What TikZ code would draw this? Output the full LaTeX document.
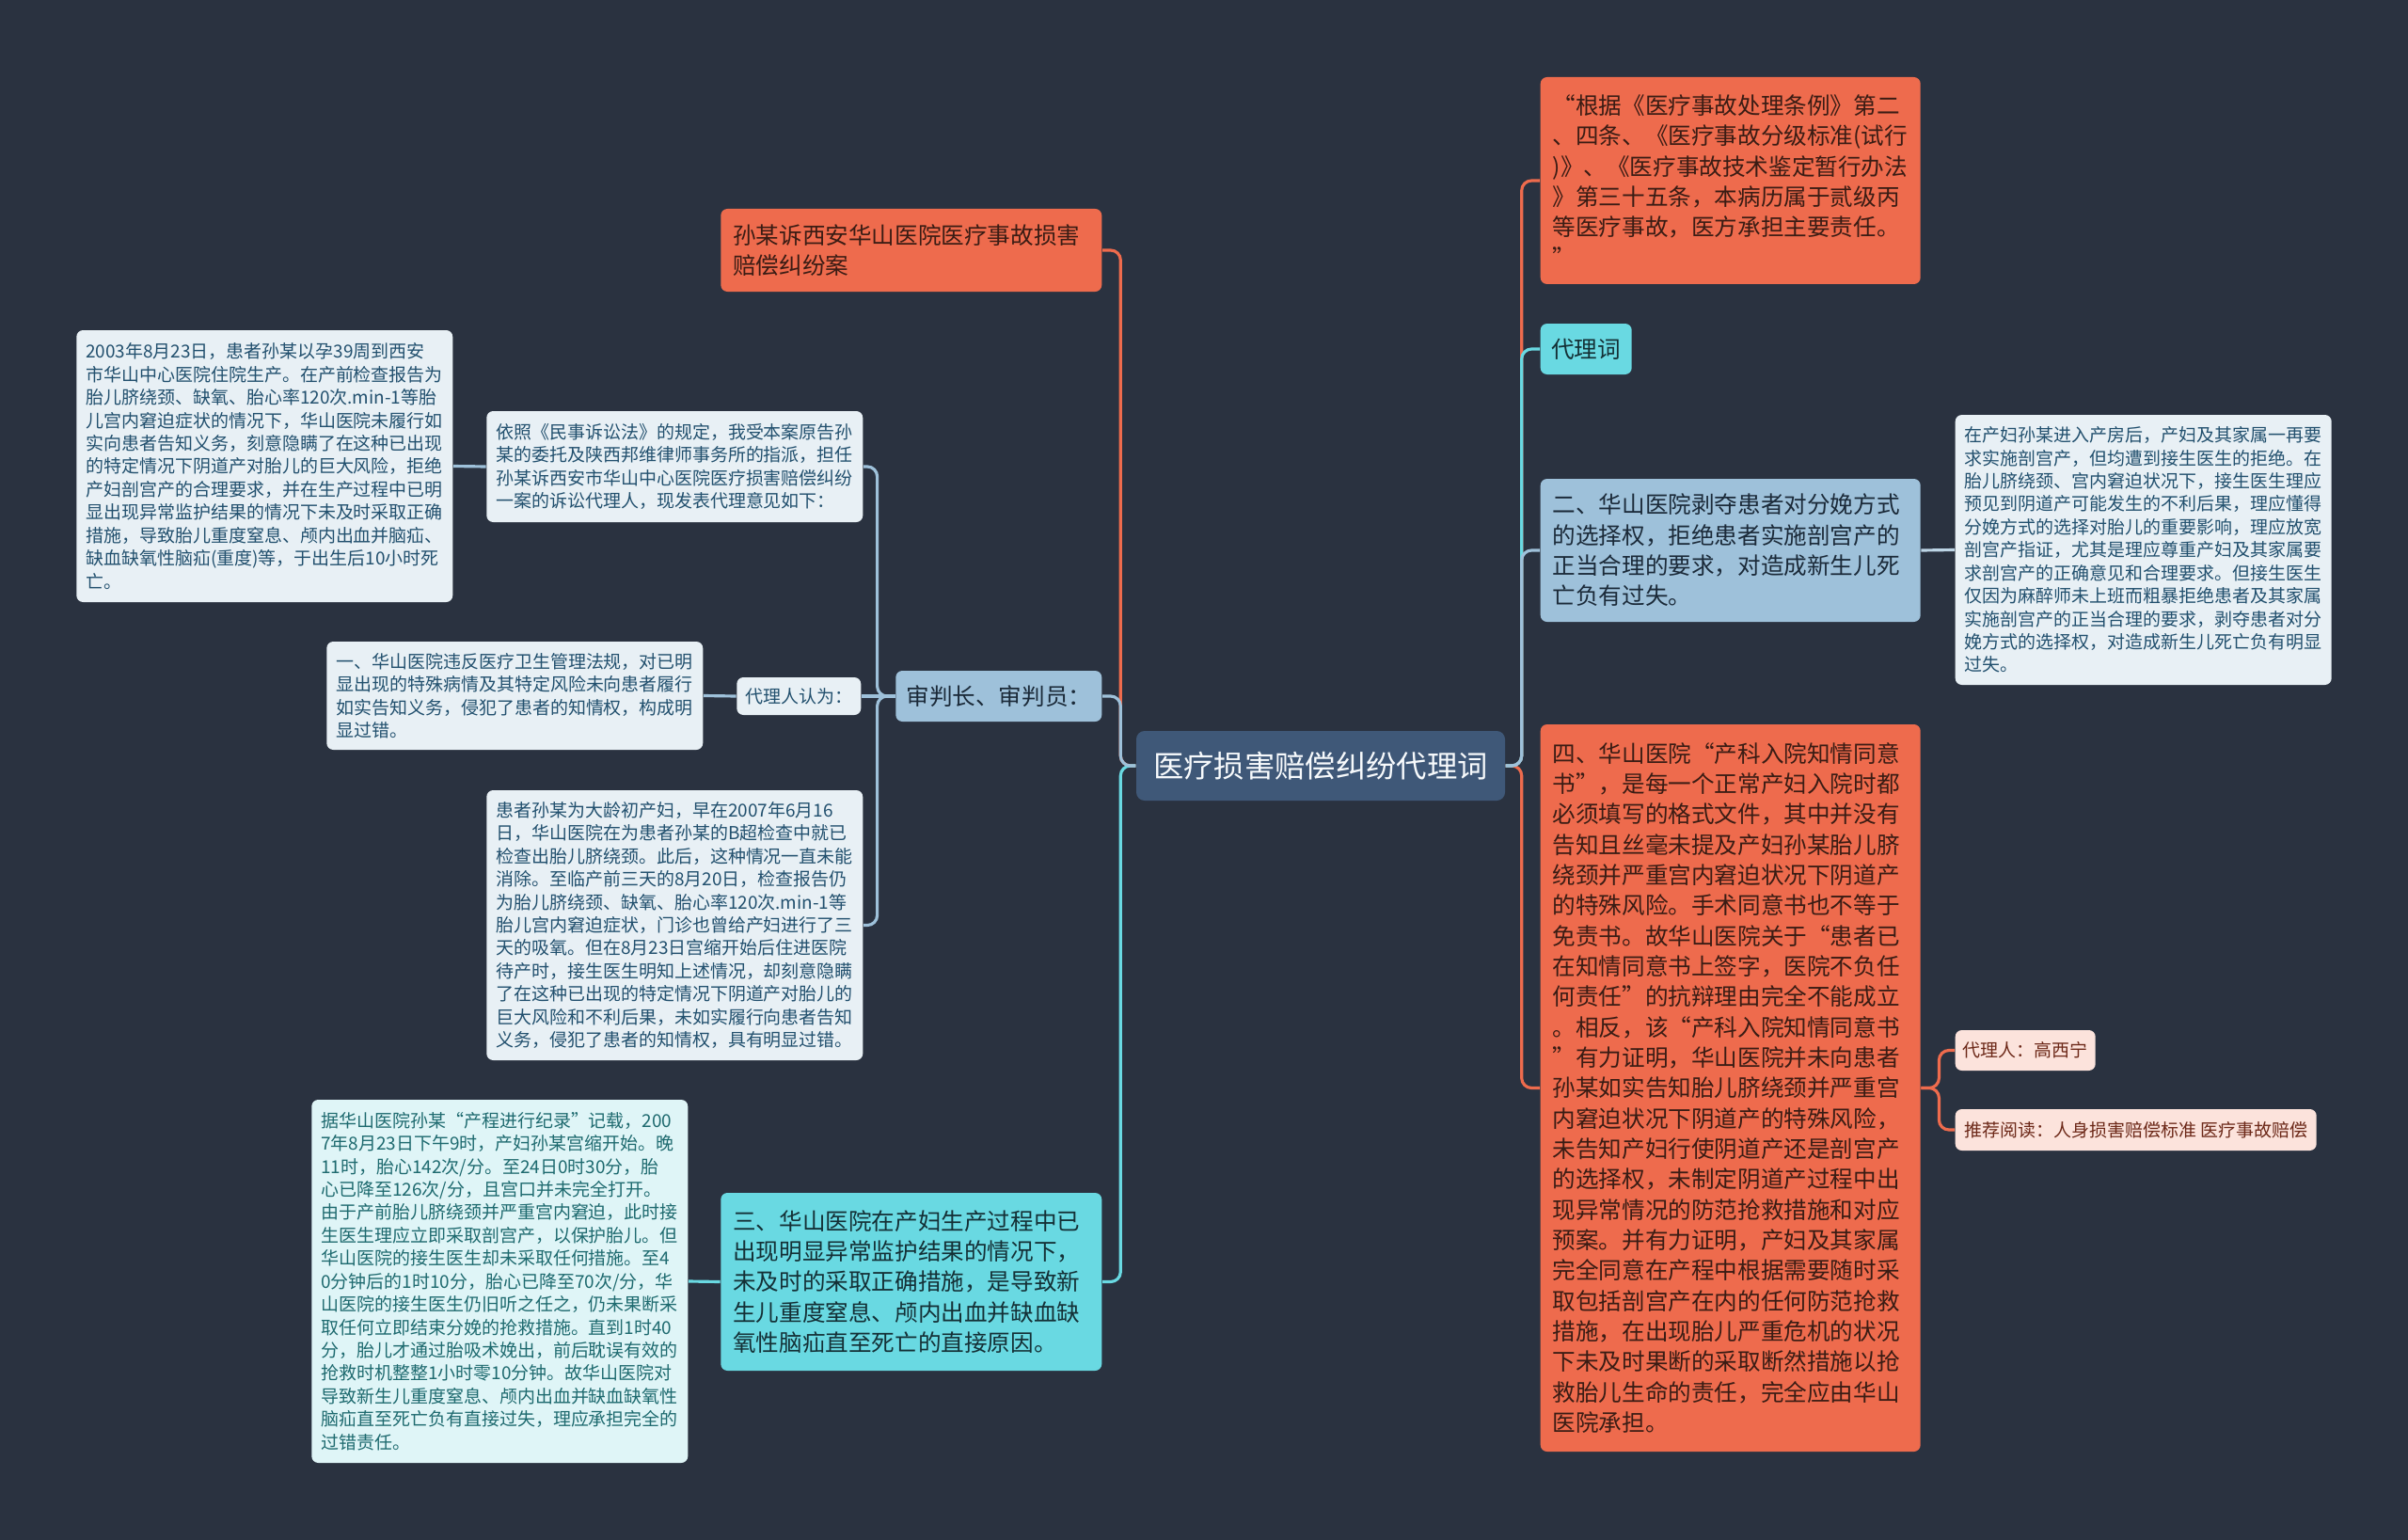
\documentclass[tikz,border=0pt]{standalone}
\usepackage{fontspec}
\setmainfont{Noto Sans CJK SC}
\usetikzlibrary{positioning,calc,backgrounds}
\definecolor{bgnavy}{HTML}{2A3240}
\definecolor{rootfill}{HTML}{3F5878}
\definecolor{orfill}{HTML}{EE6B4D}
\definecolor{ortext}{HTML}{3A1C14}
\definecolor{blfill}{HTML}{9EC1DA}
\definecolor{bltext}{HTML}{1B2A39}
\definecolor{cyfill}{HTML}{69D9E2}
\definecolor{cytext}{HTML}{143036}
\definecolor{ltfill}{HTML}{E8F0F5}
\definecolor{lttext}{HTML}{22506E}
\definecolor{lcfill}{HTML}{DFF5F7}
\definecolor{lctext}{HTML}{1E6A6F}
\definecolor{pkfill}{HTML}{FCE3DC}
\definecolor{pktext}{HTML}{6C2818}
\newcommand\mainsize{\fontsize{7pt}{9.2pt}\selectfont}
\newcommand\leafsize{\fontsize{5.4pt}{6.95pt}\selectfont}
\tikzset{
  rootbox/.style={fill=rootfill,text=white!92!blfill,rounded corners=2.5pt,
    minimum width=3.92cm,minimum height=0.74cm,inner sep=0pt,
    font=\fontsize{9.2pt}{11pt}\selectfont},
  topic/.style={rounded corners=2pt,inner xsep=0.13cm,inner ysep=0.08cm,
    align=left,font=\mainsize},
  orbox/.style={topic,fill=orfill,text=ortext},
  blbox/.style={topic,fill=blfill,text=bltext},
  cybox/.style={topic,fill=cyfill,text=cytext},
  leaf/.style={rounded corners=2pt,inner xsep=0.1cm,inner ysep=0.06cm,
    align=left,font=\leafsize,fill=ltfill,text=lttext,text width=3.8cm},
  tag/.style={rounded corners=2pt,inner sep=0pt,align=center,font=\leafsize},
  conn/.style={line width=0.9pt,rounded corners=3pt},
}

\begin{document}
\begin{tikzpicture}
  \useasboundingbox (0,0) rectangle (25.6,-16.37);
  \node[rootbox] (root) at (14.04,-8.14) {医疗损害赔偿纠纷代理词};
  % right side
  \node[orbox,anchor=west,text width=3.78cm,minimum height=2.2cm] (quote) at (16.37,-1.92)
    {“根据《医疗事故处理条例》第二\\、四条、《医疗事故分级标准(试行\\)》、《医疗事故技术鉴定暂行办法\\》第三十五条，本病历属于贰级丙\\等医疗事故，医方承担主要责任。\\”};
  \node[tag,anchor=west,fill=cyfill,text=cytext,minimum width=0.97cm,minimum height=0.54cm,
    font=\mainsize] (dlc) at (16.37,-3.71) {代理词};
  \node[blbox,anchor=west,text width=3.78cm,minimum height=1.52cm] (r2) at (16.37,-5.85)
    {二、华山医院剥夺患者对分娩方式\\的选择权，拒绝患者实施剖宫产的\\正当合理的要求，对造成新生儿死\\亡负有过失。};
  \node[leaf,anchor=west,minimum height=2.87cm] (r2d) at (20.78,-5.845)
    {在产妇孙某进入产房后，产妇及其家属一再要\\求实施剖宫产，但均遭到接生医生的拒绝。在\\胎儿脐绕颈、宫内窘迫状况下，接生医生理应\\预见到阴道产可能发生的不利后果，理应懂得\\分娩方式的选择对胎儿的重要影响，理应放宽\\剖宫产指证，尤其是理应尊重产妇及其家属要\\求剖宫产的正确意见和合理要求。但接生医生\\仅因为麻醉师未上班而粗暴拒绝患者及其家属\\实施剖宫产的正当合理的要求，剥夺患者对分\\娩方式的选择权，对造成新生儿死亡负有明显\\过失。};
  \node[orbox,anchor=west,text width=3.78cm,minimum height=7.73cm] (r4) at (16.37,-11.565)
    {四、华山医院“产科入院知情同意\\书”，是每一个正常产妇入院时都\\必须填写的格式文件，其中并没有\\告知且丝毫未提及产妇孙某胎儿脐\\绕颈并严重宫内窘迫状况下阴道产\\的特殊风险。手术同意书也不等于\\免责书。故华山医院关于“患者已\\在知情同意书上签字，医院不负任\\何责任”的抗辩理由完全不能成立\\。相反，该“产科入院知情同意书\\”有力证明，华山医院并未向患者\\孙某如实告知胎儿脐绕颈并严重宫\\内窘迫状况下阴道产的特殊风险，\\未告知产妇行使阴道产还是剖宫产\\的选择权，未制定阴道产过程中出\\现异常情况的防范抢救措施和对应\\预案。并有力证明，产妇及其家属\\完全同意在产程中根据需要随时采\\取包括剖宫产在内的任何防范抢救\\措施，在出现胎儿严重危机的状况\\下未及时果断的采取断然措施以抢\\救胎儿生命的责任，完全应由华山\\医院承担。};
  \node[tag,anchor=west,fill=pkfill,text=pktext,minimum width=1.49cm,minimum height=0.43cm]
    (agent) at (20.78,-11.165) {代理人：高西宁};
  \node[tag,anchor=west,fill=pkfill,text=pktext,minimum width=3.84cm,minimum height=0.44cm]
    (recom) at (20.78,-12.01) {推荐阅读：人身损害赔偿标准 医疗事故赔偿};
  % left side
  \node[orbox,anchor=east,text width=3.79cm,minimum height=0.88cm] (case) at (11.72,-2.66)
    {孙某诉西安华山医院医疗事故损害\\赔偿纠纷案};
  \node[tag,anchor=east,fill=blfill,text=bltext,minimum width=2.19cm,minimum height=0.54cm,
    font=\mainsize] (judge) at (11.72,-7.40) {审判长、审判员：};
  \node[leaf,anchor=east,minimum height=1.18cm] (intro) at (9.18,-4.96)
    {依照《民事诉讼法》的规定，我受本案原告孙\\某的委托及陕西邦维律师事务所的指派，担任\\孙某诉西安市华山中心医院医疗损害赔偿纠纷\\一案的诉讼代理人，现发表代理意见如下：};
  \node[leaf,anchor=east,minimum height=2.89cm] (fact) at (4.82,-4.955)
    {2003年8月23日，患者孙某以孕39周到西安\\市华山中心医院住院生产。在产前检查报告为\\胎儿脐绕颈、缺氧、胎心率120次.min-1等胎\\儿宫内窘迫症状的情况下，华山医院未履行如\\实向患者告知义务，刻意隐瞒了在这种已出现\\的特定情况下阴道产对胎儿的巨大风险，拒绝\\产妇剖宫产的合理要求，并在生产过程中已明\\显出现异常监护结果的情况下未及时采取正确\\措施，导致胎儿重度窒息、颅内出血并脑疝、\\缺血缺氧性脑疝(重度)等，于出生后10小时死\\亡。};
  \node[tag,anchor=east,fill=ltfill,text=lttext,minimum width=1.32cm,minimum height=0.40cm]
    (opin) at (9.16,-7.40) {代理人认为：};
  \node[leaf,anchor=east,minimum height=1.15cm] (p1) at (7.48,-7.395)
    {一、华山医院违反医疗卫生管理法规，对已明\\显出现的特殊病情及其特定风险未向患者履行\\如实告知义务，侵犯了患者的知情权，构成明\\显过错。};
  \node[leaf,anchor=east,minimum height=2.87cm] (p1d) at (9.18,-9.835)
    {患者孙某为大龄初产妇，早在2007年6月16\\日，华山医院在为患者孙某的B超检查中就已\\检查出胎儿脐绕颈。此后，这种情况一直未能\\消除。至临产前三天的8月20日，检查报告仍\\为胎儿脐绕颈、缺氧、胎心率120次.min-1等\\胎儿宫内窘迫症状，门诊也曾给产妇进行了三\\天的吸氧。但在8月23日宫缩开始后住进医院\\待产时，接生医生明知上述情况，却刻意隐瞒\\了在这种已出现的特定情况下阴道产对胎儿的\\巨大风险和不利后果，未如实履行向患者告知\\义务，侵犯了患者的知情权，具有明显过错。};
  \node[cybox,anchor=east,text width=3.79cm,minimum height=1.89cm] (p3) at (11.72,-13.625)
    {三、华山医院在产妇生产过程中已\\出现明显异常监护结果的情况下，\\未及时的采取正确措施，是导致新\\生儿重度窒息、颅内出血并缺血缺\\氧性脑疝直至死亡的直接原因。};
  \node[leaf,anchor=east,fill=lcfill,text=lctext,minimum height=3.86cm] (p3d) at (7.32,-13.62)
    {据华山医院孙某“产程进行纪录”记载，200\\7年8月23日下午9时，产妇孙某宫缩开始。晚\\11时，胎心142次/分。至24日0时30分，胎\\心已降至126次/分，且宫口并未完全打开。\\由于产前胎儿脐绕颈并严重宫内窘迫，此时接\\生医生理应立即采取剖宫产，以保护胎儿。但\\华山医院的接生医生却未采取任何措施。至4\\0分钟后的1时10分，胎心已降至70次/分，华\\山医院的接生医生仍旧听之任之，仍未果断采\\取任何立即结束分娩的抢救措施。直到1时40\\分，胎儿才通过胎吸术娩出，前后耽误有效的\\抢救时机整整1小时零10分钟。故华山医院对\\导致新生儿重度窒息、颅内出血并缺血缺氧性\\脑疝直至死亡负有直接过失，理应承担完全的\\过错责任。};
  \begin{scope}[on background layer]
    \fill[bgnavy] (0,0) rectangle (25.6,-16.37);
    \draw[conn,draw=orfill] (root.west) -- ++(-0.16,0) |- (case.east);
    \draw[conn,draw=cyfill] (root.west) -- ++(-0.16,0) |- (p3.east);
    \draw[conn,draw=blfill] (root.west) -- ++(-0.16,0) |- (judge.east);
    \draw[conn,draw=blfill] (judge.west) -- ++(-0.19,0) |- (intro.east);
    \draw[conn,draw=blfill] (judge.west) -- ++(-0.19,0) |- (p1d.east);
    \draw[conn,draw=blfill] (judge.west) -- (opin.east);
    \draw[conn,draw=blfill] (intro.west) -- (fact.east);
    \draw[conn,draw=blfill] (opin.west) -- (p1.east);
    \draw[conn,draw=cyfill] (p3.west) -- (p3d.east);
    \draw[conn,draw=orfill] (root.east) -- ++(0.17,0) |- (quote.west);
    \draw[conn,draw=orfill] (root.east) -- ++(0.17,0) |- (r4.west);
    \draw[conn,draw=cyfill] (root.east) -- ++(0.17,0) |- (dlc.west);
    \draw[conn,draw=blfill] (root.east) -- ++(0.17,0) |- (r2.west);
    \draw[conn,draw=blfill!60!ltfill] (r2.east) -- (r2d.west);
    \draw[conn,draw=orfill] (r4.east) -- ++(0.19,0) |- (agent.west);
    \draw[conn,draw=orfill] (r4.east) -- ++(0.19,0) |- (recom.west);
  \end{scope}
\end{tikzpicture}
\end{document}
